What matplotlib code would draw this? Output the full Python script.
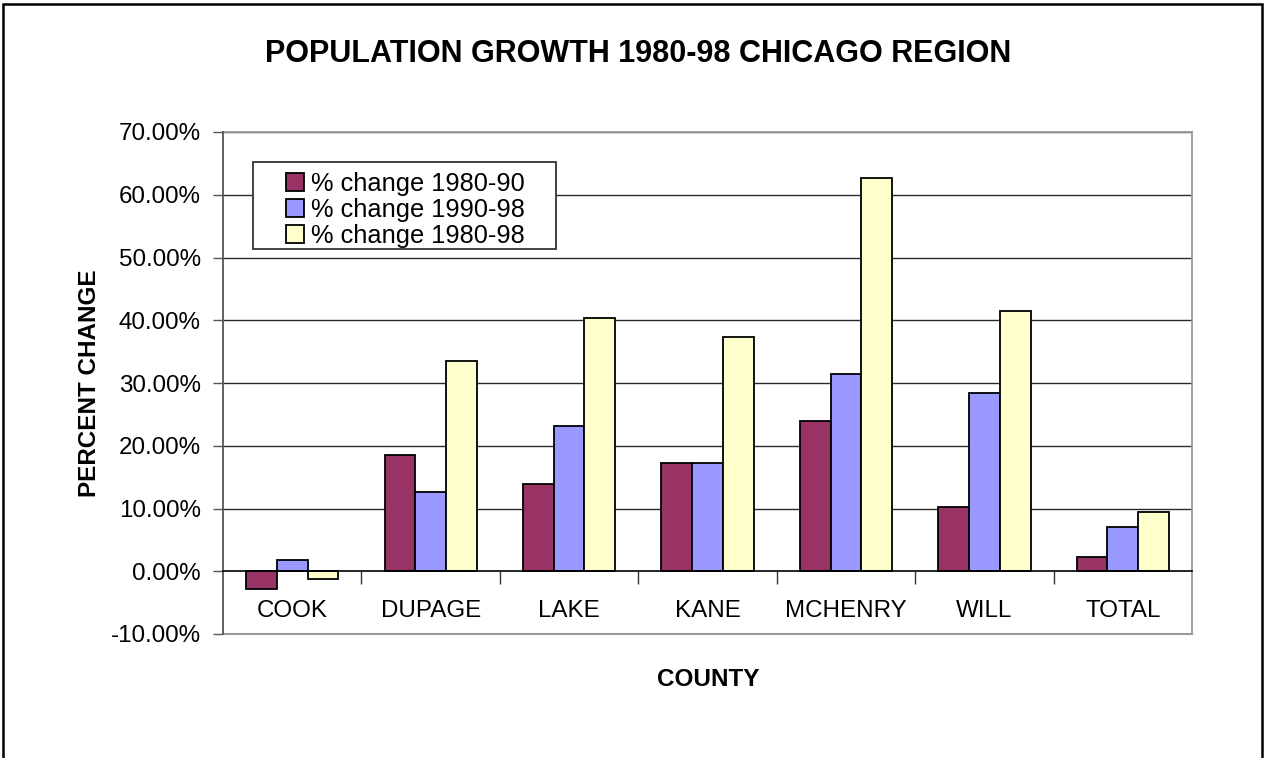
import matplotlib
matplotlib.use("Agg")
import matplotlib.pyplot as plt
import numpy as np
from matplotlib.patches import Rectangle
from matplotlib.ticker import FixedLocator, FuncFormatter

counties = ["COOK", "DUPAGE", "LAKE", "KANE", "MCHENRY", "WILL", "TOTAL"]
series_names = ["% change 1980-90", "% change 1990-98", "% change 1980-98"]
change_1980_90 = [-2.8, 18.5, 13.9, 17.2, 23.9, 10.2, 2.3]
change_1990_98 = [1.8, 12.7, 23.1, 17.2, 31.5, 28.4, 7.1]
change_1980_98 = [-1.3, 33.5, 40.4, 37.4, 62.7, 41.4, 9.4]
colors = ["#993366", "#9999FF", "#FFFFCC"]
yticks = [-10, 0, 10, 20, 30, 40, 50, 60, 70]

plt.rcParams['font.family'] = ['Liberation Sans', 'DejaVu Sans']

W, H = 1265, 758
fig = plt.figure(figsize=(W / 100, H / 100), dpi=100)
fig.patch.set_facecolor("white")

def fx(px):
    return px / W

def fy(py):
    return 1 - py / H

ax = fig.add_axes([fx(223), fy(634), fx(1192) - fx(223), fy(132) - fy(634)])

x = np.arange(len(counties))
bw = 1 / 4.5
all_series = [change_1980_90, change_1990_98, change_1980_98]
for i, (vals, name, c) in enumerate(zip(all_series, series_names, colors)):
    ax.bar(x + (i - 1) * bw, vals, width=bw, color=c, edgecolor="black",
           linewidth=1.3, label=name, zorder=3)

ax.set_xlim(-0.5, len(counties) - 0.5)
ax.set_ylim(-10, 70)

# grid lines
for t in yticks:
    if t not in (-10, 0):
        ax.axhline(t, color="#2a2a2a", linewidth=1.0, zorder=1)

ax.yaxis.set_major_locator(FixedLocator(yticks))
ax.yaxis.set_major_formatter(FuncFormatter(lambda v, p: f"{v:.2f}%"))
ax.tick_params(axis="y", direction="out", length=7, width=1, color="#555555",
               labelsize=17.4, pad=9)

# x axis at zero
ax.spines["bottom"].set_position(("data", 0))
ax.spines["bottom"].set_color("black")
ax.spines["bottom"].set_linewidth(1.2)
ax.spines["bottom"].set_zorder(4)
ax.spines["left"].set_color("#555555")
ax.spines["left"].set_linewidth(1.3)
ax.spines["top"].set_visible(False)
ax.spines["right"].set_color("#999999")
ax.spines["right"].set_linewidth(1.3)
# plot-area border at -10% and 70%
ax.axhline(-10, color="#999999", linewidth=1.5, zorder=2, clip_on=False)
ax.axhline(70, color="#999999", linewidth=1.3, zorder=2, clip_on=False)

ax.set_xticks(x)
ax.set_xticklabels(counties)
ax.set_xticks(np.arange(len(counties) + 1)[1:-1] - 0.5, minor=True)
ax.tick_params(axis="x", which="major", length=0, labelsize=17.4, pad=21)
ax.tick_params(axis="x", which="minor", direction="out", length=9, width=1, color="#333333")

# legend
leg = fig.legend(loc="upper left", bbox_to_anchor=(fx(286), fy(172)),
                 frameon=False, fontsize=18.3, handlelength=0.72, handleheight=0.72,
                 handletextpad=0.25, labelspacing=0.08, borderpad=0, borderaxespad=0)
for p in leg.get_patches():
    p.set_linewidth(1.3)
fig.patches.append(Rectangle((fx(253), fy(249)), fx(556) - fx(253), fy(162) - fy(249),
                             transform=fig.transFigure, facecolor="white",
                             edgecolor="#333333", linewidth=1.3, zorder=5))
leg.set_zorder(6)

# titles
fig.text(fx(638), fy(54), "POPULATION GROWTH 1980-98 CHICAGO REGION",
         ha="center", va="center", fontsize=22, fontweight="bold")
fig.text(fx(89), fy(383), "PERCENT CHANGE", rotation=90, ha="center", va="center",
         fontsize=17.5, fontweight="bold")
fig.text(fx(708), fy(679), "COUNTY", ha="center", va="center",
         fontsize=17.5, fontweight="bold")

# outer chart border
fig.patches.append(Rectangle((fx(3), fy(800)), fx(1262) - fx(3), fy(4) - fy(800),
                             transform=fig.transFigure, facecolor="none",
                             edgecolor="black", linewidth=1.8, zorder=0))

fig.savefig("out.png", dpi=100)
